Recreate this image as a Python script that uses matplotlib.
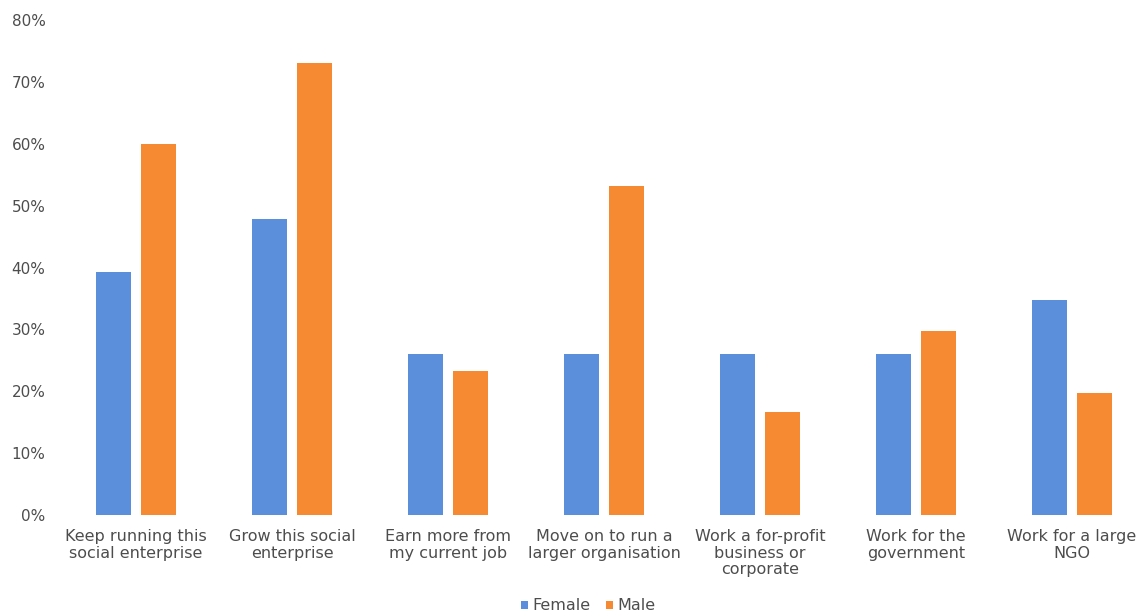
import numpy as np
import matplotlib
matplotlib.use("Agg")
import matplotlib.pyplot as plt
from matplotlib.ticker import PercentFormatter

# categories and values
categories = ["Keep running this\nsocial enterprise", "Grow this social\nenterprise",
              "Earn more from\nmy current job", "Move on to run a\nlarger organisation",
              "Work a for-profit\nbusiness or\ncorporate", "Work for the\ngovernment",
              "Work for a large\nNGO"]
female = [39.2, 47.9, 26.1, 26.1, 26.1, 26.0, 34.7]
male = [60.0, 73.1, 23.2, 53.1, 16.6, 29.8, 19.7]
series = ["Female", "Male"]
colors = ["#5b8fdc", "#f58a33"]

plt.rcParams['font.family'] = ['DejaVu Sans']
txt = "#4d4d4d"

fig = plt.figure(figsize=(11.42, 6.15), dpi=100)
ax = fig.add_axes([58 / 1142, 100 / 615, (1142 - 58) / 1142, 495 / 615])

x = np.arange(len(categories))
w = 0.225
off = 0.146
ax.bar(x - off, female, w, color=colors[0], label=series[0])
ax.bar(x + off, male, w, color=colors[1], label=series[1])

ax.set_xlim(-0.5, (1142 - 136) / 156)
ax.set_ylim(0, 80)
ax.set_yticks(range(0, 81, 10))
ax.yaxis.set_major_formatter(PercentFormatter(decimals=0))
ax.set_xticks(x)
ax.set_xticklabels(categories, fontsize=11.5, color=txt, linespacing=1.15)
ax.tick_params(axis='y', labelsize=11, labelcolor=txt, length=0, pad=9)
ax.tick_params(axis='x', length=0, pad=10)
for s in ax.spines.values():
    s.set_visible(False)

leg = fig.legend(loc='center', bbox_to_anchor=(588 / 1142, 9 / 615), ncol=2, frameon=False,
                 fontsize=11.5, handlelength=0.45, handleheight=0.45, handletextpad=0.25,
                 columnspacing=1.0, labelcolor=txt)

fig.savefig("out.png", dpi=100, facecolor="white")
